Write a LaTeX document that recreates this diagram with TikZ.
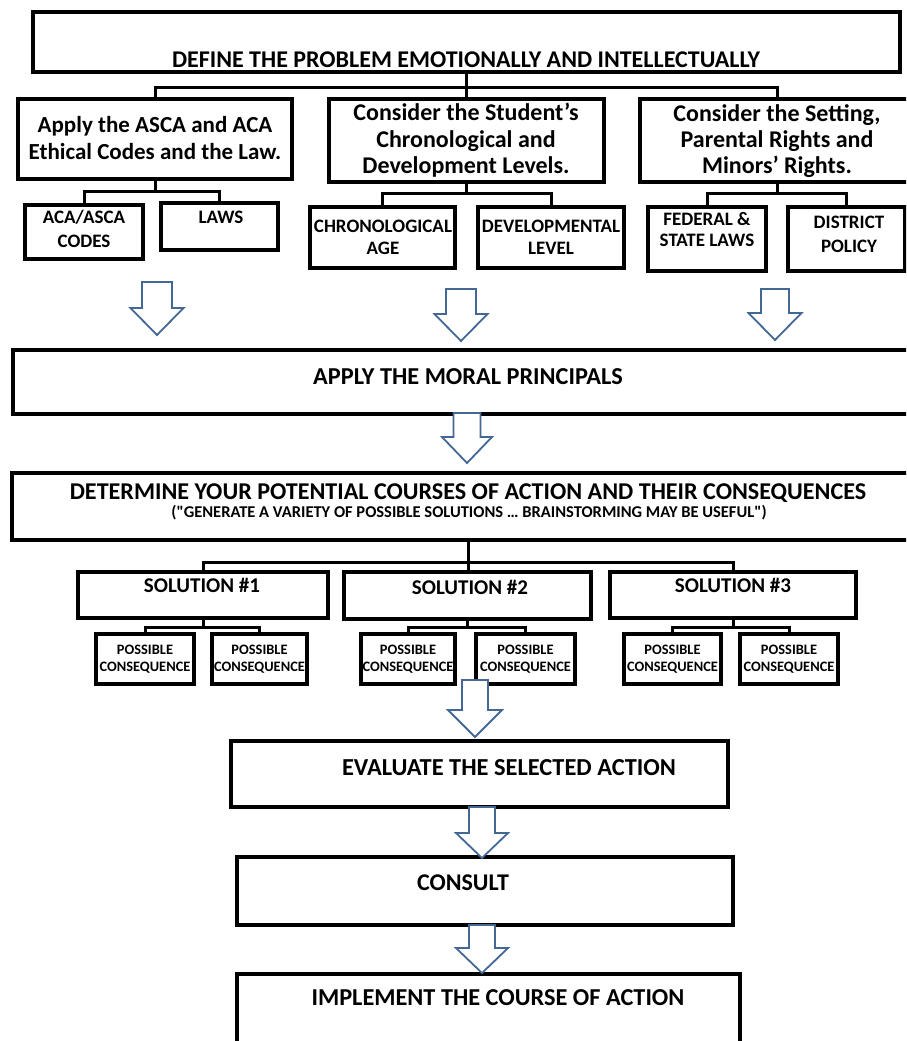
\documentclass[tikz,border=0pt]{standalone}
\usepackage{fontspec}
\setmainfont{Carlito}[Ligatures=TeXOff]
\definecolor{arrowblue}{RGB}{68,104,150}
\tikzset{
  boxst/.style={draw=black, line width=3.2pt, fill=white, rectangle, inner sep=0pt, outer sep=0pt},
  conn/.style={draw=black, line width=3pt},
  txt/.style={inner sep=0pt, outer sep=0pt, align=center, text=black},
  arrowst/.style={draw=arrowblue, line width=1.8pt, fill=white, line join=miter},
}
\newcommand\fsz[2]{\fontsize{#1}{#2}\selectfont\bfseries}
\newcommand\mybox[5]{\node[boxst, anchor=north west, minimum width={(#4)-(#2)}, minimum height={(#5)-(#3)}] (#1) at (#2,#3) {};}
\newcommand\harrow[6]{\draw[arrowst] ({#1-#5},#2) -- ({#1-#5},#3) -- ({#1-#6},#3) -- (#1,#4) -- ({#1+#6},#3) -- ({#1+#5},#3) -- ({#1+#5},#2) -- cycle;}
\begin{document}
\begin{tikzpicture}[x=1pt,y=-1pt]
\useasboundingbox (0,0) rectangle (906,1041);
\clip (0,0) rectangle (906,1041);
\fill[white] (0,0) rectangle (906,1041);
% boxes
\mybox{T}{33}{12}{900}{72}
\mybox{A}{18}{99}{292}{179}
\mybox{B}{329}{99}{604}{182}
\mybox{C}{640}{99}{915}{182}
\mybox{S1}{25}{205}{143}{259}
\mybox{S2}{161}{203}{278}{250}
\mybox{S3}{310}{207}{455}{268}
\mybox{S4}{478}{207}{624}{268}
\mybox{S5}{648}{207}{766}{271}
\mybox{S6}{788}{207}{905}{271}
\mybox{M}{13}{350}{923}{414}
\mybox{D}{12}{473}{924}{540}
\mybox{P1}{78}{572}{328}{618}
\mybox{P2}{344}{572}{591}{619}
\mybox{P3}{610}{572}{856}{618}
\mybox{Q1}{96}{634}{194}{684}
\mybox{Q2}{212}{634}{307}{684}
\mybox{Q3}{361}{634}{455}{684}
\mybox{Q4}{476}{634}{575}{684}
\mybox{Q5}{624}{634}{721}{684}
\mybox{Q6}{740}{634}{838}{684}
\mybox{E}{231}{741}{728}{807}
\mybox{K}{237}{857}{733}{925}
\mybox{I}{237}{974}{740}{1070}
% connectors
\coordinate (j0) at (466.5,87);
\draw[conn] (T.south) -- (j0) -- (B.north);
\draw[conn] (A.north) |- (j0) -| (C.north);
\draw[conn] (A.south) -- ++(0,12) coordinate (ja);
\draw[conn] (S1.north) |- (ja) -| (S2.north);
\draw[conn] (B.south) -- ++(0,11) coordinate (jb);
\draw[conn] (S3.north) |- (jb) -| (S4.north);
\draw[conn] (C.south) -- ++(0,11) coordinate (jc);
\draw[conn] (S5.north) |- (jc) -| (S6.north);
\coordinate (jd) at (468,562);
\draw[conn] (D.south -| jd) -- (jd) -- (P2.north -| jd);
\draw[conn] (P1.north) |- (jd) -| (P3.north);
\draw[conn] (P1.south) -- ++(0,9) coordinate (jp1);
\draw[conn] (Q1.north) |- (jp1) -| (Q2.north);
\draw[conn] (P2.south) -- ++(0,8) coordinate (jp2);
\draw[conn] (Q3.north) |- (jp2) -| (Q4.north);
\draw[conn] (P3.south) -- ++(0,9) coordinate (jp3);
\draw[conn] (Q5.north) |- (jp3) -| (Q6.north);
% hollow arrows
\harrow{157}{282}{308}{335}{15}{26.5}
\harrow{461}{289}{314}{341}{15}{26.5}
\harrow{775}{289}{313}{340}{14}{26.5}
\harrow{467}{413}{437}{463}{13.5}{25}
\harrow{475}{680}{710}{737}{13}{27}
\harrow{482}{807}{833}{858}{13}{26}
\harrow{482}{925}{948}{973}{13}{26}
% texts
\node[txt, font=\fsz{24}{28}] (tT) at (466,59.5) {DEFINE THE PROBLEM EMOTIONALLY AND INTELLECTUALLY};
\node[txt, font=\fsz{23}{27}] (tA) at (155,138) {Apply the ASCA and ACA\\Ethical Codes and the Law.};
\node[txt, font=\fsz{24}{26.5}] (tB) at (466,140.5) {Consider the Student’s\\Chronological and\\Development Levels.};
\node[txt, font=\fsz{24}{26}] (tC) at (777,141) {Consider the Setting,\\Parental Rights and\\Minors’ Rights.};
\node[txt, font=\fsz{19}{24}] (t1) at (84,229) {ACA/ASCA\\CODES};
\node[txt, font=\fsz{19}{24}] (t2) at (221,217) {LAWS};
\node[txt, font=\fsz{19}{22}] (t3) at (383,237) {CHRONOLOGICAL\\AGE};
\node[txt, font=\fsz{19}{22}] (t4) at (551,237) {DEVELOPMENTAL\\LEVEL};
\node[txt, font=\fsz{19}{21}] (t5) at (707,229.5) {FEDERAL \&\\STATE LAWS};
\node[txt, font=\fsz{19}{24}] (t6) at (849,234) {DISTRICT\\POLICY};
\node[txt, font=\fsz{24.3}{28}] (tM) at (468,377) {APPLY THE MORAL PRINCIPALS};
\node[txt, font=\fsz{24.1}{28}] (tD1) at (468,493) {DETERMINE YOUR POTENTIAL COURSES OF ACTION AND THEIR CONSEQUENCES};
\node[txt, font=\fsz{16.5}{18}] (tD2) at (469,513) {("GENERATE A VARIETY OF POSSIBLE SOLUTIONS … BRAINSTORMING MAY BE USEFUL")};
\node[txt, font=\fsz{21}{24}] (tP1) at (202,585) {SOLUTION \#1};
\node[txt, font=\fsz{21}{24}] (tP2) at (470,587) {SOLUTION \#2};
\node[txt, font=\fsz{21}{24}] (tP3) at (733,585) {SOLUTION \#3};
\foreach \n/\x in {1/145,2/259.5,3/408,4/525.5,5/672.5,6/789}
  \node[txt, font=\fsz{14.4}{17}] (tQ\n) at (\x,659.5) {POSSIBLE\\CONSEQUENCE};
\node[txt, font=\fsz{24.4}{28}] (tE) at (509,768) {EVALUATE THE SELECTED ACTION};
\node[txt, font=\fsz{24}{28}] (tK) at (463,883) {CONSULT};
\node[txt, font=\fsz{24.3}{28}] (tI) at (498,998) {IMPLEMENT THE COURSE OF ACTION};
\end{tikzpicture}
\end{document}
